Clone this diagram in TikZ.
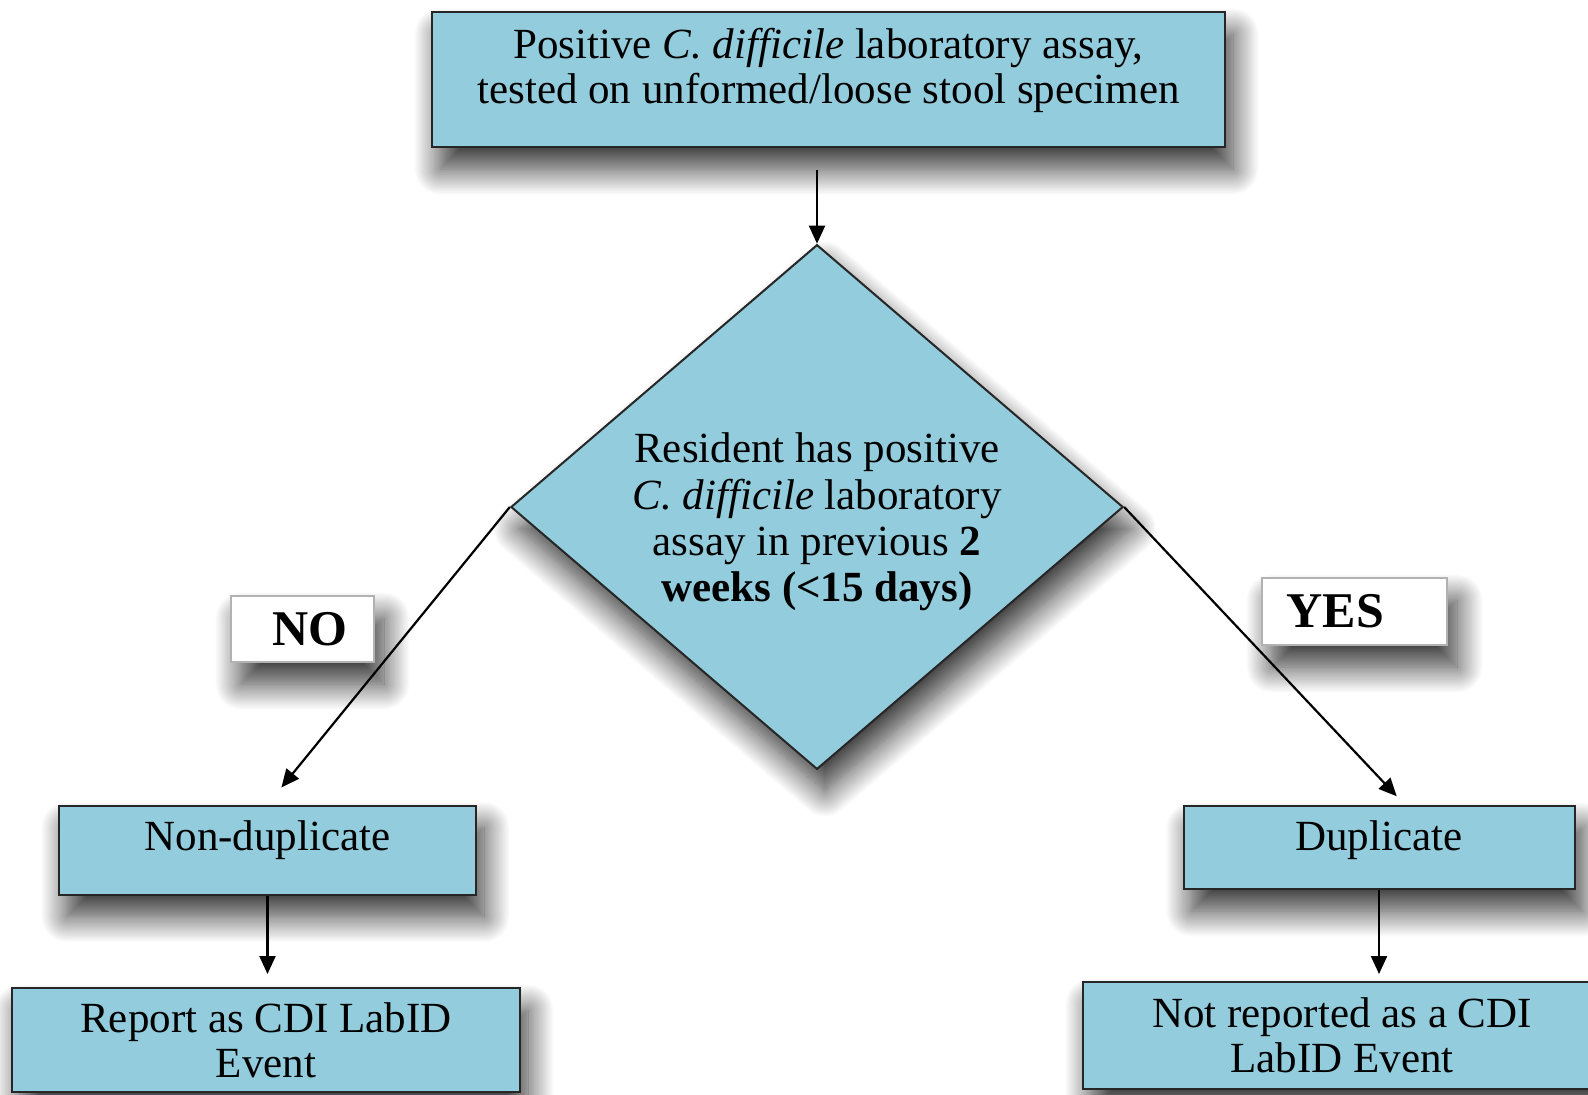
\documentclass[tikz,border=0pt]{standalone}
\usepackage{fontspec}
\setmainfont{Liberation Serif}
\usetikzlibrary{shapes.geometric,arrows.meta,shadows.blur}

\definecolor{flowblue}{RGB}{146,204,221}
\newcommand{\lowpad}[1]{\rule[-#1]{0pt}{#1}}

\begin{document}
\begin{tikzpicture}[x=0.5pt,y=-0.5pt,
		box/.style={rectangle,draw=black!85,line width=1pt,fill=flowblue,align=center,inner sep=0pt,
			font=\fontsize{21.5pt}{22.6pt}\selectfont,
			blur shadow={shadow xshift=4pt,shadow yshift=-11pt,shadow blur radius=13pt,
				shadow blur steps=24,shadow opacity=80}},
		decision/.style={box,diamond,aspect=1.167,font=\fontsize{21.5pt}{23.2pt}\selectfont},
		answer/.style={rectangle,draw=black!30,line width=0.6pt,fill=white,inner sep=0pt,
			font=\fontsize{25pt}{27pt}\selectfont\bfseries,
			blur shadow={shadow xshift=5pt,shadow yshift=-11pt,shadow blur radius=13pt,
				shadow blur steps=24,shadow opacity=80}},
		flow/.style={-{Triangle[length=9pt,width=8pt]},line width=1.1pt}]
		\useasboundingbox (0,0) rectangle (1588,1094);

		\draw (828.5,79.5) node [box,minimum width=396.5pt,minimum height=67.5pt] (assay)
			{Positive \textit{C. difficile} laboratory assay,\\ tested on unformed/loose stool specimen\lowpad{14pt}};
		\draw (817,507) node [decision,minimum width=304.5pt,minimum height=261pt] (resident)
			{\rule{0pt}{30pt}Resident has positive\\ \textit{C. difficile} laboratory\\ assay in previous \textbf{2}\\ \textbf{weeks (<15 days)}};
		\draw (267.5,850) node [box,minimum width=208.5pt,minimum height=44.5pt] (nondup) {Non-duplicate\lowpad{14.5pt}};
		\draw (1379,847.5) node [box,minimum width=195.5pt,minimum height=41.5pt] (dup) {Duplicate\lowpad{12.2pt}};
		\draw (266,1040) node [box,minimum width=254pt,minimum height=52pt] (report) {Report as CDI LabID\\ Event};
		\draw (1342,1035.5) node [box,minimum width=259pt,minimum height=53.5pt] (notrep) {Not reported as a CDI\\ LabID Event};

		\draw (302.5,629) node [answer,minimum width=71.5pt,minimum height=33pt] (no) {\hspace*{7pt}NO};
		\draw (1354.5,611.5) node [answer,minimum width=92.5pt,minimum height=33.5pt] (yes) {YES\hspace*{19pt}};

		\draw
			(assay.south -| resident.north) edge [flow,shorten <=11pt] (resident.north)
			(resident.west) edge [flow,shorten >=11pt] (nondup.north)
			(resident.east) edge [flow,shorten >=6pt] ([xshift=13pt]dup.north)
			(nondup.south) edge [flow,shorten >=6.5pt] (nondup.south |- report.north)
			(dup.south) edge [flow,shorten >=3.5pt] (dup.south |- notrep.north)
		;
	\end{tikzpicture}
\end{document}
